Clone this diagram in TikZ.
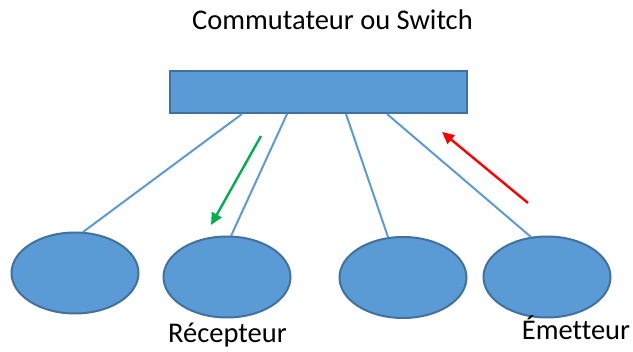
\documentclass[tikz,border=0pt]{standalone}
\usepackage{fontspec}
\setmainfont[Ligatures=CommonOff]{Carlito}
\usetikzlibrary{arrows.meta,shapes.geometric}
\definecolor{accfill}{HTML}{5B9BD5}
\definecolor{accdraw}{HTML}{41719C}
\definecolor{grn}{HTML}{00B050}
\begin{document}
\begin{tikzpicture}[x=1pt,y=-1pt,
  host/.style={ellipse,draw=accdraw,fill=accfill,line width=2pt,minimum width=127pt,minimum height=81pt,inner sep=0pt},
  sw/.style={rectangle,draw=accdraw,fill=accfill,line width=2pt,minimum width=297pt,minimum height=42pt,inner sep=0pt},
  link/.style={draw=accfill,line width=2pt},
  flow/.style={line width=2.4pt,-{Triangle[length=12pt,width=11pt]}},
  lbl/.style={font=\fontsize{28.5}{32}\selectfont,inner sep=0pt,anchor=base}]
\useasboundingbox (0,0) rectangle (633,352);
\node[sw] (s) at (318,92.5) {};
\node[host] (h1) at (75,273) {};
\node[host] (h2) at (227,277) {};
\node[host] (h3) at (403,277.5) {};
\node[host] (h4) at (547,277) {};
\coordinate (s1) at (242,114); \coordinate (e1) at (83,232);
\coordinate (s2) at (287,114); \coordinate (e2) at (231,236);
\coordinate (s3) at (346,114); \coordinate (e3) at (388,237);
\coordinate (s4) at (387,114); \coordinate (e4) at (531,237);
\draw[link] (s1) -- (e1);
\draw[link] (s2) -- (e2);
\draw[link] (s3) -- (e3);
\draw[link] (s4) -- (e4);
\coordinate (g1) at (261,136); \coordinate (g2) at (211,225);
\coordinate (r1) at (528,203); \coordinate (r2) at (442,132);
\draw[flow,grn] (g1) -- (g2);
\draw[flow,red] (r1) -- (r2);
\node[lbl] (t) at (332.5,30) {Commutateur ou Switch};
\node[lbl] (rc) at (227.5,343) {Récepteur};
\node[lbl] (em) at (576,340) {Émetteur};
\end{tikzpicture}
\end{document}
